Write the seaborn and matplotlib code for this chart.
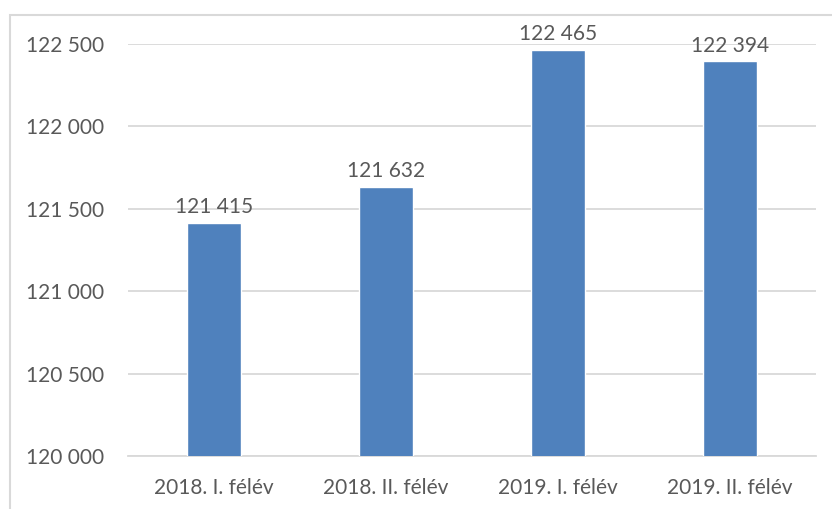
import matplotlib
matplotlib.use("Agg")
import matplotlib.pyplot as plt
import seaborn as sns
import pandas as pd
from matplotlib.patches import Rectangle
from matplotlib.ticker import FuncFormatter

# Data
periods = ["2018. I. félév", "2018. II. félév", "2019. I. félév", "2019. II. félév"]
values = [121415, 121632, 122465, 122394]
y_ticks = [120000, 120500, 121000, 121500, 122000, 122500]

df = pd.DataFrame({"period": periods, "value": values})

sns.set_theme(style="white")
plt.rcParams["font.family"] = ["Lato", "DejaVu Sans"]

TEXT = "#595959"
BAR = "#4F81BD"
GRID = "#D9D9D9"
FS = 15

fig = plt.figure(figsize=(8.32, 5.09), dpi=100)
ax = fig.add_axes([0.154, 0.104, 0.827, 0.81])

sns.barplot(data=df, x="period", y="value", color=BAR, width=0.314,
            saturation=1, ax=ax, zorder=3)

ax.set_ylim(y_ticks[0], y_ticks[-1])
ax.set_yticks(y_ticks)
ax.yaxis.set_major_formatter(FuncFormatter(lambda v, p: f"{int(v):,}".replace(",", " ")))
ax.grid(axis="y", color=GRID, linewidth=1.3, zorder=0)
ax.set_axisbelow(True)
for s in ["top", "right", "left"]:
    ax.spines[s].set_visible(False)
ax.spines["bottom"].set_color(GRID)
ax.spines["bottom"].set_linewidth(1.3)
ax.tick_params(axis="both", length=0, labelsize=FS, labelcolor=TEXT)
ax.tick_params(axis="y", pad=17)
ax.tick_params(axis="x", pad=16)
ax.set_xlabel("")
ax.set_ylabel("")

for i, v in enumerate(values):
    ax.annotate(f"{v:,}".replace(",", " "), (i, v), xytext=(0, 4),
                textcoords="offset points", ha="center", va="bottom",
                fontsize=FS, color=TEXT, annotation_clip=False)

# chart border
fig.patches.append(Rectangle((10 / 832, -0.01), 1.0, (509 - 15) / 509 + 0.01,
                             transform=fig.transFigure, fill=False,
                             edgecolor="#D9D9D9", linewidth=1.5))

fig.savefig("out.png", dpi=100)
